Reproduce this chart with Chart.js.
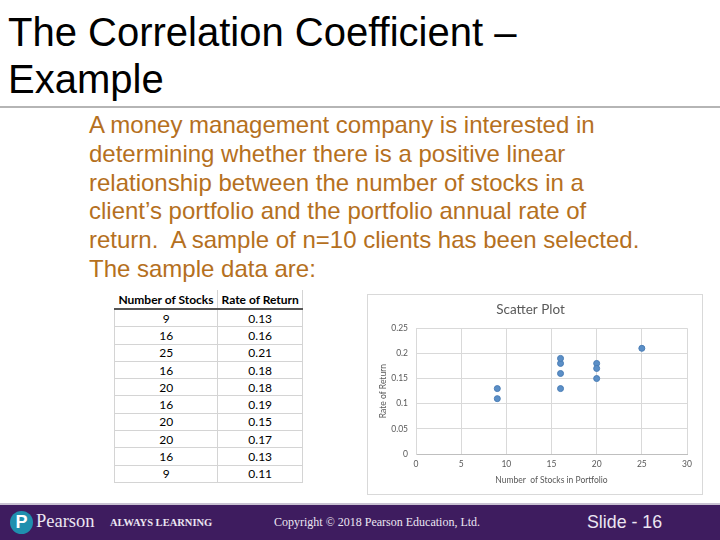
<!DOCTYPE html>
<html>
<head>
<meta charset="utf-8">
<script src="https://cdn.jsdelivr.net/npm/chart.js@4.4.1/dist/chart.umd.min.js"></script>
<style>
  body { margin: 0; width: 720px; height: 540px; overflow: hidden; background: #fff; font-family: "Liberation Sans", Arial, sans-serif; position: relative; }
  .title { position: absolute; left: 8px; top: 9px; font-size: 40px; line-height: 47px; color: #000; white-space: nowrap; }
  .rule { position: absolute; left: 0; top: 106px; width: 720px; height: 2px; background: #b5b5b5; }
  .intro { position: absolute; left: 89px; top: 111px; font-size: 24px; line-height: 28.8px; color: #b5701e; white-space: nowrap; }
  #dataTable { position: absolute; left: 114px; top: 290px; width: 189px; border-collapse: collapse; font-family: Lato, sans-serif; font-size: 12px; color: #000; }
  #dataTable th { font-weight: bold; height: 18px; padding: 0; border-bottom: 2px solid #555; border-right: 1px solid #d4d4d4; white-space: nowrap; }
  #dataTable td { text-align: center; height: 16.3px; padding: 0; border-bottom: 1px solid #d4d4d4; border-right: 1px solid #d4d4d4; border-left: 1px solid #d4d4d4; }
  #chartBox { position: absolute; left: 367px; top: 294px; }
  .frame { position: absolute; left: 367px; top: 294px; width: 334px; height: 199px; border: 1px solid #d9d9d9; pointer-events: none; }
  .footer { position: absolute; left: 0; top: 505px; width: 720px; height: 35px; background: #3e1c5f; color: #ece6f2; }
  .footline { position: absolute; left: 0; top: 503px; width: 720px; height: 2px; background: #c9c2d2; }
  .logo { position: absolute; left: 10px; top: 6px; width: 23px; height: 23px; border-radius: 50%; background: #1f8fae; color: #fff; font: bold 18px "Liberation Sans", Arial, sans-serif; text-align: center; line-height: 23px; }
  .brand { position: absolute; left: 36px; top: 6px; font: 18.5px "Liberation Serif", "Times New Roman", serif; }
  .always { position: absolute; left: 110px; top: 12px; font: bold 10.5px "Liberation Serif", serif; letter-spacing: 0; }
  .copy { position: absolute; left: 274px; top: 10px; font: 12px "Liberation Serif", serif; }
  .slide { position: absolute; left: 587px; top: 7px; font: 17.8px "Liberation Sans", Arial, sans-serif; }
</style>
</head>
<body>
<div class="title">The Correlation Coefficient –<br>Example</div>
<div class="rule"></div>
<div class="intro">A money management company is interested in<br>determining whether there is a positive linear<br>relationship between the number of stocks in a<br>client’s portfolio and the portfolio annual rate of<br>return.&nbsp; A sample of n=10 clients has been selected.<br>The sample data are:</div>

<table id="dataTable"></table>

<canvas id="chartBox" width="336" height="201"></canvas>
<div class="frame"></div>

<div class="footline"></div>
<div class="footer">
  <div class="logo">P</div>
  <div class="brand">Pearson</div>
  <div class="always">ALWAYS LEARNING</div>
  <div class="copy">Copyright © 2018 Pearson Education, Ltd.</div>
  <div class="slide">Slide - 16</div>
</div>

<script>
const columnHeaders = ['Number of Stocks', 'Rate of Return'];
const numStocks = [9, 16, 25, 16, 20, 16, 20, 20, 16, 9];
const rateOfReturn = [0.13, 0.16, 0.21, 0.18, 0.18, 0.19, 0.15, 0.17, 0.13, 0.11];
const xTickLabels = ['0', '5', '10', '15', '20', '25', '30'];
const yTickLabels = ['0', '0.05', '0.1', '0.15', '0.2', '0.25'];

// table
const table = document.getElementById('dataTable');
let html = '<tr>' + columnHeaders.map(h => '<th>' + h + '</th>').join('') + '</tr>';
numStocks.forEach((n, i) => {
  html += '<tr><td>' + n + '</td><td>' + rateOfReturn[i].toFixed(2) + '</td></tr>';
});
table.innerHTML = html;

// scatter plot
const gray = '#595959';
const gridColor = '#d9d9d9';

new Chart(document.getElementById('chartBox'), {
  type: 'scatter',
  data: {
    datasets: [{
      data: numStocks.map((n, i) => ({ x: n, y: rateOfReturn[i] })),
      backgroundColor: '#5b8fc7',
      borderColor: '#4a7db5',
      borderWidth: 1,
      pointRadius: 3
    }]
  },
  options: {
    responsive: false,
    animation: false,
    layout: { padding: { left: 7, right: 16, top: 0, bottom: 6 } },
    plugins: {
      legend: { display: false },
      tooltip: { enabled: false },
      title: {
        display: true,
        text: 'Scatter Plot',
        color: gray,
        font: { family: 'Lato', size: 13.5, weight: 'normal' },
        padding: { top: 8, bottom: 10 }
      }
    },
    scales: {
      x: {
        type: 'linear',
        min: 0, max: 30,
        afterFit: s => { s.height = 35; },
        ticks: {
          stepSize: 5, padding: 5, color: gray,
          font: { family: 'Lato', size: 8.5 },
          callback: (v, i) => xTickLabels[i] ?? v
        },
        grid: { color: gridColor, drawTicks: false },
        border: { color: '#bfbfbf' },
        title: {
          display: true, text: 'Number  of Stocks in Portfolio', color: gray,
          font: { family: 'Lato', size: 8.5 }
        }
      },
      y: {
        min: 0, max: 0.25,
        afterFit: s => { s.width = 42; },
        ticks: {
          stepSize: 0.05, padding: 8, color: gray,
          font: { family: 'Lato', size: 8.5 },
          callback: (v, i) => yTickLabels[i] ?? v
        },
        grid: { color: gridColor, drawTicks: false },
        border: { color: gridColor },
        title: {
          display: true, text: 'Rate of Return', color: gray,
          font: { family: 'Lato', size: 8.5 }
        }
      }
    }
  }
});
</script>
</body>
</html>
